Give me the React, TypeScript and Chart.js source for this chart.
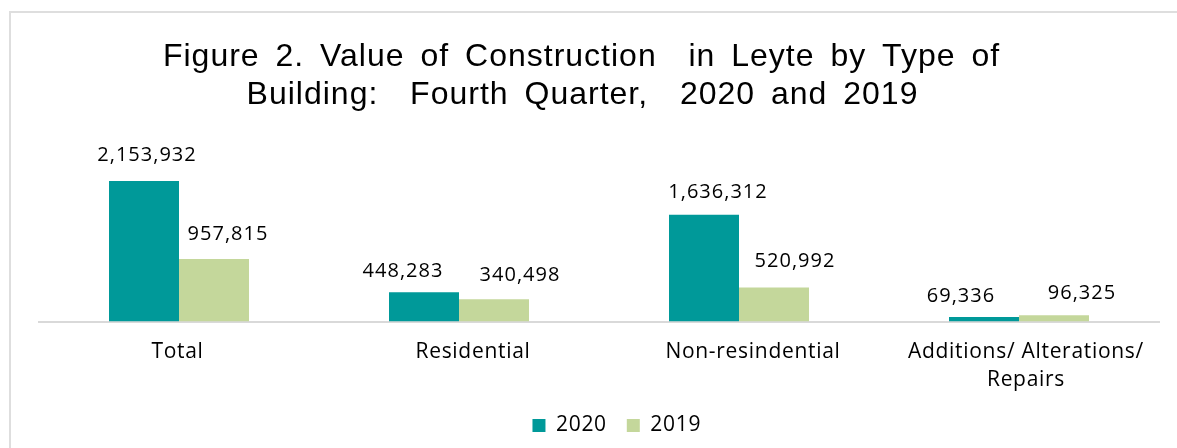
import { useEffect, useRef } from "react";
import { Chart, registerables } from "chart.js";

Chart.register(...registerables);

const titleLines = [
  "Figure 2. Value of Construction  in Leyte by Type of",
  "Building:  Fourth Quarter,  2020 and 2019",
];
const categories: (string | string[])[] = [
  "Total",
  "Residential",
  "Non-resindential",
  ["Additions/ Alterations/", "Repairs"],
];
const seriesNames = ["2020", "2019"];
const values2020 = [2153932, 448283, 1636312, 69336];
const values2019 = [957815, 340498, 520992, 96325];
const yMax = 2500000;

const TEAL = "#009999";
const GREEN = "#C4D79B";
const FONT = "'Open Sans', sans-serif";

// manual label nudges (dx, gap above bar) mimicking the original's hand-placed labels
const labelNudges = [
  [[3, 20], [-21, 15], [14, 17], [-23, 15]],
  [[14, 19], [26, 18], [21, 21], [28, 16]],
];
// horizontal nudges of the category labels as placed in the original
const tickNudges = [-1.5, 14, 14, 7];

const spacingPlugin = {
  id: "spacing",
  beforeDraw(chart: any) {
    try {
      chart.ctx.letterSpacing = "0.7px";
    } catch (e) {}
    const xs = chart.scales.x;
    if (xs && !xs.__nudged) {
      const items = xs.getLabelItems();
      items.forEach((it: any, i: number) => {
        if (it.options && it.options.translation) it.options.translation[0] += tickNudges[i] || 0;
      });
      xs.__nudged = true;
    }
  },
  afterLayout(chart: any) {
    if (chart.legend) {
      chart.legend.left += 15;
      chart.legend.right += 15;
    }
  },
};

const titlePlugin = {
  id: "customTitle",
  afterDraw(chart: any) {
    const ctx = chart.ctx;
    ctx.save();
    try {
      ctx.letterSpacing = "1px";
      ctx.wordSpacing = "6px";
    } catch (e) {}
    ctx.font = "32px 'Liberation Sans', Arial, sans-serif";
    ctx.fillStyle = "#000";
    ctx.textAlign = "center";
    ctx.textBaseline = "alphabetic";
    ctx.fillText(titleLines[0], 581.5, 66);
    ctx.fillText(titleLines[1], 582.5, 104);
    ctx.restore();
  },
};

const valueLabels = {
  id: "valueLabels",
  afterDatasetsDraw(chart: any) {
    const ctx = chart.ctx;
    ctx.save();
    ctx.font = "20px " + FONT;
    ctx.fillStyle = "#000";
    ctx.textAlign = "center";
    ctx.textBaseline = "alphabetic";
    try {
      ctx.letterSpacing = "1px";
    } catch (e) {}
    chart.data.datasets.forEach((ds: any, di: number) => {
      const meta = chart.getDatasetMeta(di);
      meta.data.forEach((bar: any, i: number) => {
        const v = ds.data[i] as number;
        const [dx, gap] = labelNudges[di][i];
        ctx.fillText(v.toLocaleString("en-US"), bar.x + dx, bar.y - gap);
      });
    });
    ctx.restore();
  },
};

export default function App() {
  const ref = useRef<HTMLCanvasElement | null>(null);
  useEffect(() => {
    if (!ref.current) return;
    const chart = new Chart(ref.current, {
      type: "bar",
      data: {
        labels: categories as any,
        datasets: [
          { label: seriesNames[0], data: values2020, backgroundColor: TEAL, borderWidth: 0 },
          { label: seriesNames[1], data: values2019, backgroundColor: GREEN, borderWidth: 0 },
        ],
      },
      options: {
        responsive: false,
        animation: false,
        layout: { padding: { top: 158.5, left: 39, right: 18, bottom: 2 } },
        datasets: { bar: { categoryPercentage: 0.5, barPercentage: 1 } } as any,
        plugins: {
          legend: {
            position: "bottom",
            labels: {
              boxWidth: 13,
              boxHeight: 13,
              padding: 20,
              color: "#000",
              font: { family: FONT, size: 21 },
            },
          },
          tooltip: { enabled: false },
          title: { display: false },
        },
        scales: {
          x: {
            grid: { display: false, drawTicks: false },
            border: { color: "#d9d9d9", width: 2 },
            ticks: {
              color: "#000",
              font: { family: FONT, size: 21, lineHeight: 28 / 21 },
              padding: 17,
              maxRotation: 0,
              autoSkip: false,
            },
            afterFit: (scale: any) => {
              scale.height = 73.5;
            },
          },
          y: { display: false, min: 0, max: yMax },
        },
      },
      plugins: [spacingPlugin, titlePlugin, valueLabels],
    });
    return () => chart.destroy();
  }, []);

  return (
    <div style={{ position: "absolute", left: 0, top: 0, width: 1177, height: 448, overflow: "hidden", background: "#fff" }}>
      <div
        style={{
          position: "absolute",
          left: 9,
          top: 11,
          width: 1300,
          height: 600,
          border: "2px solid #dedede",
          boxSizing: "border-box",
        }}
      />
      <canvas ref={ref} width={1177} height={448} style={{ position: "absolute", left: 0, top: 0 }} />
    </div>
  );
}
